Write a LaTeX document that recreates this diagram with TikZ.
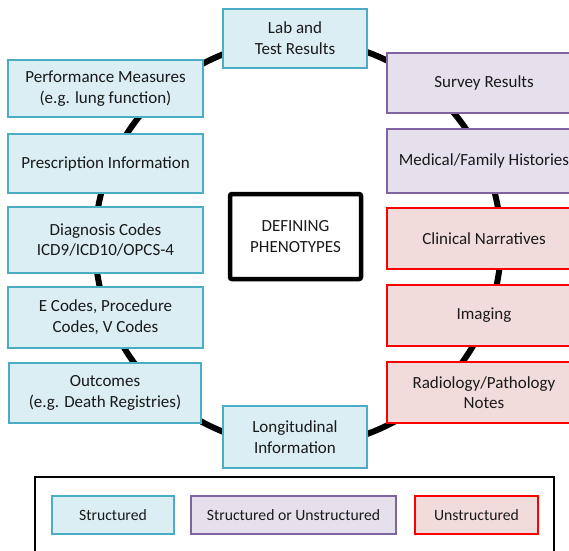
\documentclass[tikz,border=0pt]{standalone}
\usepackage{fontspec}
\setmainfont{Carlito}
\definecolor{sfill}{HTML}{DAEEF3}
\definecolor{sdraw}{HTML}{4BACC6}
\definecolor{pfill}{HTML}{E5E0EC}
\definecolor{pdraw}{HTML}{8064A2}
\definecolor{rfill}{HTML}{F2DCDB}
\definecolor{rdraw}{HTML}{FF0000}
\definecolor{txt}{HTML}{1A1A1A}
\tikzset{
  base/.style={rectangle, line width=2.4pt, align=center, text=txt,
    inner sep=0pt, font=\fontsize{17}{20.7}\selectfont},
  sbox/.style={base, fill=sfill, draw=sdraw},
  pbox/.style={base, fill=pfill, draw=pdraw},
  rbox/.style={base, fill=rfill, draw=rdraw},
  legtext/.style={font=\fontsize{15.7}{19}\selectfont},
  ring/.style={line width=6pt, draw=black},
}
\begin{document}
\begin{tikzpicture}[x=1pt,y=-1pt]
\useasboundingbox (0,0) rectangle (569,550);
\clip (0,0) rectangle (569,550);
\fill[white] (0,0) rectangle (569,550);
\coordinate (c) at (298,243);
\draw[ring] (c) circle[radius=203];
% left column
\node[sbox, minimum width=144pt, minimum height=59pt] (lab) at (295,38.5) {Lab and\\Test Results};
\node[sbox, minimum width=195pt, minimum height=57pt] (perf) at (105.5,88.5) {Performance Measures\\(e.g. lung function)};
\node[sbox, minimum width=195pt, minimum height=59pt] (presc) at (105.5,163.5) {Prescription Information};
\node[sbox, minimum width=195pt, minimum height=66pt] (diag) at (105.5,240) {Diagnosis Codes\\ICD9/ICD10/OPCS-4};
\node[sbox, minimum width=195pt, minimum height=61pt] (ecodes) at (105.5,317.5) {E Codes, Procedure\\Codes, V Codes};
\node[sbox, minimum width=192pt, minimum height=60pt] (outc) at (105,393) {Outcomes\\(e.g. Death Registries)};
\node[sbox, minimum width=144pt, minimum height=62pt] (longi) at (295,437) {Longitudinal\\Information};
% right column
\node[pbox, minimum width=194pt, minimum height=60pt] (survey) at (484,83) {Survey Results};
\node[pbox, minimum width=194pt, minimum height=64pt] (medical) at (484,161) {Medical/Family Histories};
\node[rbox, minimum width=194pt, minimum height=61pt] (clinical) at (484,238.5) {Clinical Narratives};
\node[rbox, minimum width=194pt, minimum height=61pt] (imaging) at (484,315.5) {Imaging};
\node[rbox, minimum width=194pt, minimum height=61pt] (radio) at (484,392.5) {Radiology/Pathology\\Notes};
% center
\node[base, draw=black, fill=white, line width=4.5pt, rounded corners=2pt,
  minimum width=131pt, minimum height=85pt] (define) at (295.5,236.5) {DEFINING\\PHENOTYPES};
% legend
\node[draw=black, fill=white, line width=1.5pt, minimum width=519pt, minimum height=90pt, inner sep=0pt] (legend) at (294.5,522) {};
\node[sbox, legtext, minimum width=122pt, minimum height=38pt] (leg1) at (113,515) {Structured};
\node[pbox, legtext, minimum width=205pt, minimum height=38pt] (leg2) at (293.5,515) {Structured or Unstructured};
\node[rbox, legtext, minimum width=123pt, minimum height=38pt] (leg3) at (476.5,515) {Unstructured};
\end{tikzpicture}
\end{document}
